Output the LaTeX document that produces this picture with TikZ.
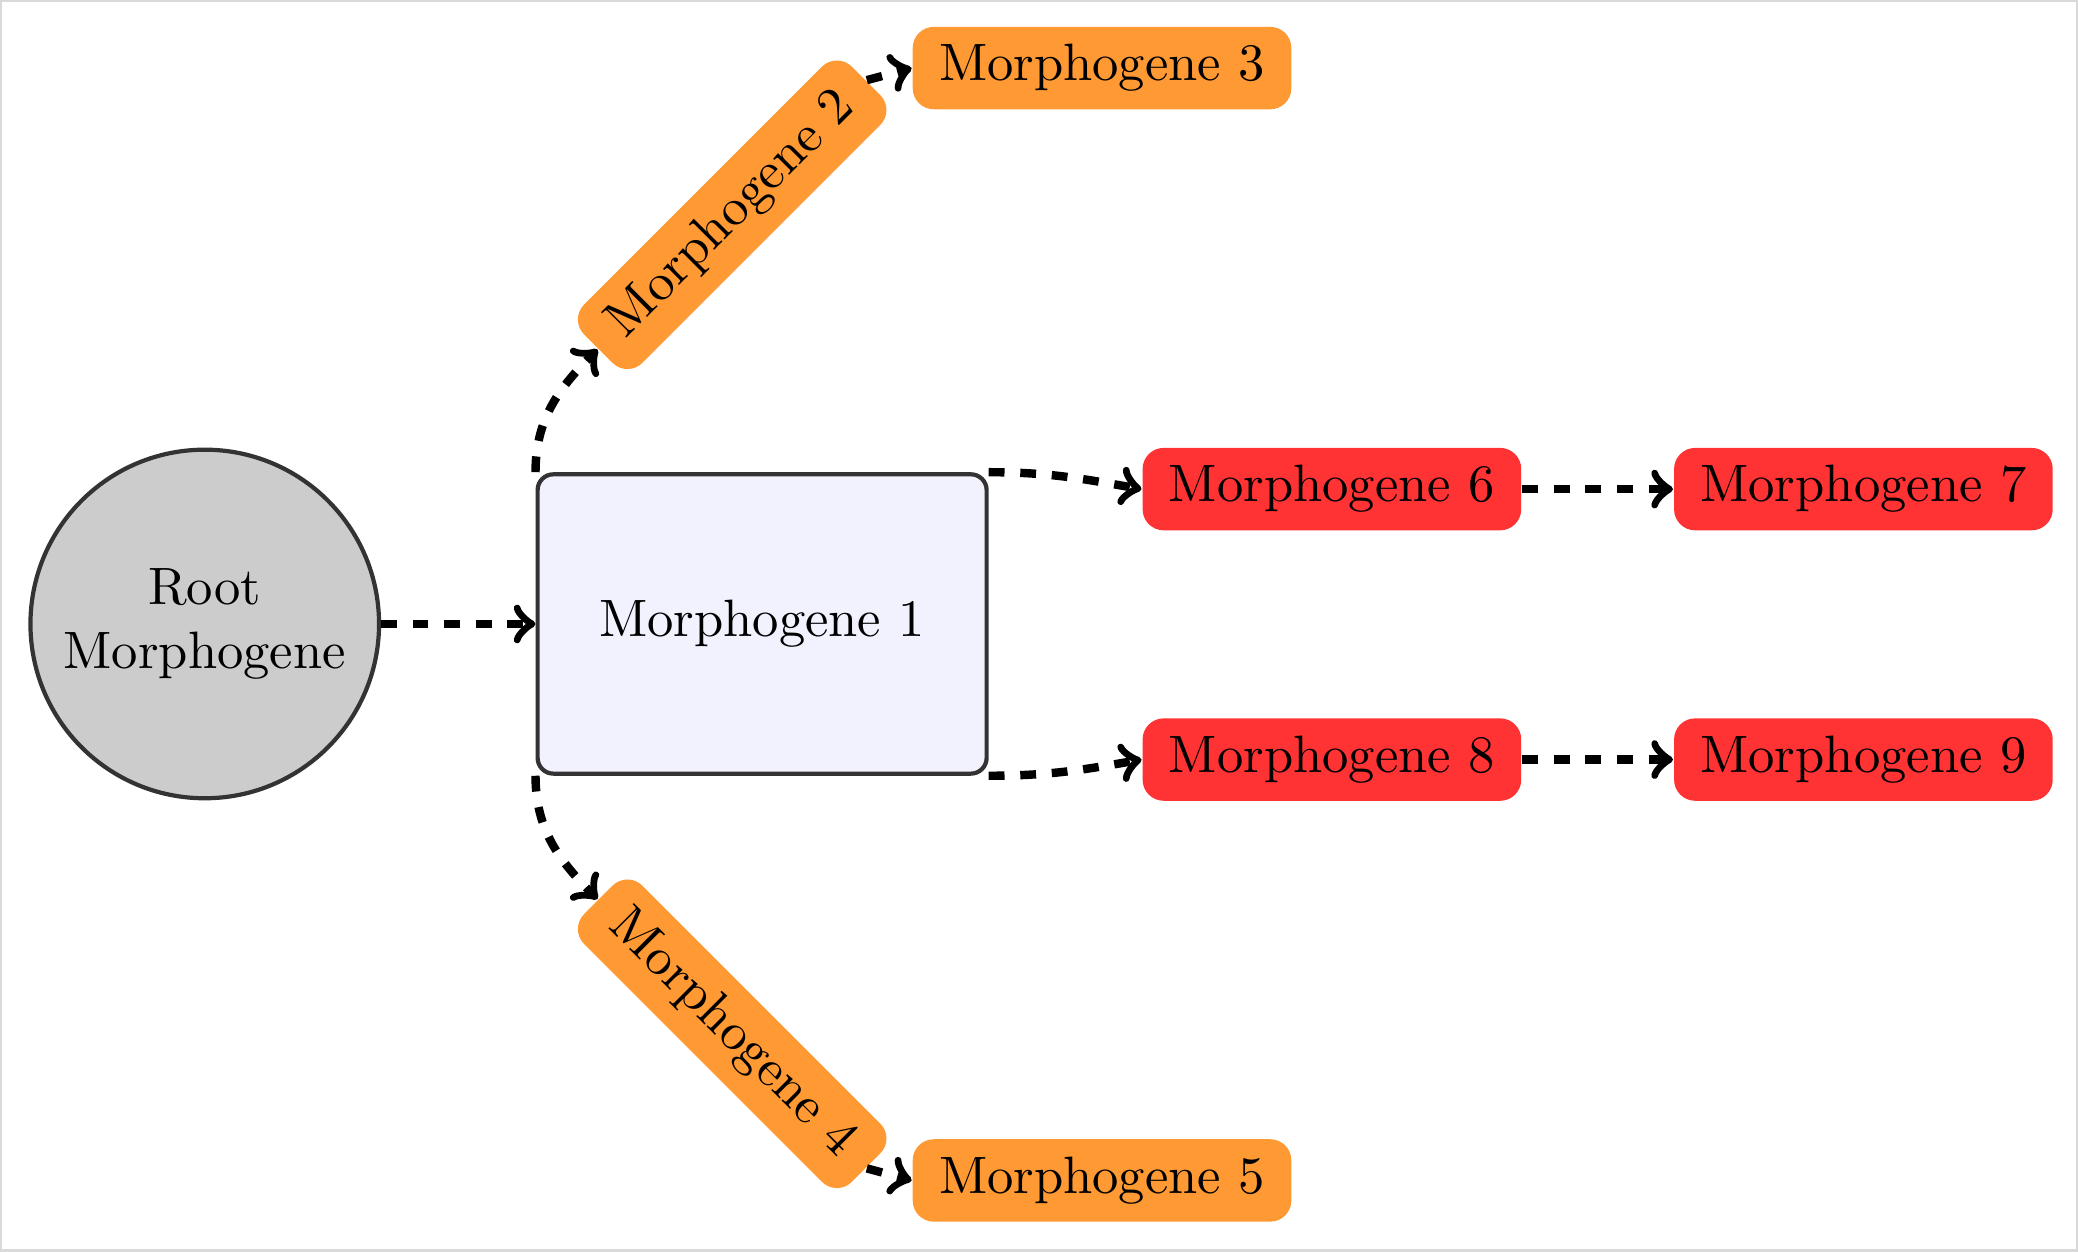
\documentclass[tikz,border=0pt]{standalone}

\begin{document}
\begin{tikzpicture}[
    rootnode/.style={circle, draw=black!80, thick, fill=black!20, align=center},
    mainnode/.style={rectangle, draw=black!80, thick, fill=blue!5, rounded corners=3pt, minimum width=3cm, minimum height=2cm},
    orangenode/.style={rectangle, fill=orange!80, rounded corners=4pt, inner xsep=5pt},
    rednode/.style={rectangle, fill=red!80, rounded corners=4pt, inner xsep=5pt},
    link/.style={->, dashed, ultra thick}
]
    \useasboundingbox (0, 0) rectangle (13.884, 8.359);
    \draw [black!15, line width=0.8pt] (0, 0) rectangle (13.884, 8.359);

    \node [rootnode] (root) at (1.368, 4.19) {Root \\ Morphogene};
    \node [mainnode] (m1) at (5.092, 4.19) {Morphogene 1};

    \node [orangenode, rotate=45] (m2) at (4.892, 6.924) {Morphogene 2};
    \node [orangenode] (m3) at (7.363, 7.904) {Morphogene 3};
    \node [orangenode, rotate=-45] (m4) at (4.892, 1.452) {Morphogene 4};
    \node [orangenode] (m5) at (7.363, 0.472) {Morphogene 5};

    \node [rednode] (m6) at (8.899, 5.091) {Morphogene 6};
    \node [rednode] (m7) at (12.450, 5.091) {Morphogene 7};
    \node [rednode] (m8) at (8.899, 3.284) {Morphogene 8};
    \node [rednode] (m9) at (12.450, 3.284) {Morphogene 9};

    \draw [link] (root.east) -- (m1.west);

    \draw [link] (m1.north west) to [out=90, in=225] (m2.west);
    \draw [link] (m2.east) -- (m3.west);
    \draw [link] (m1.south west) to [out=-90, in=135] (m4.west);
    \draw [link] (m4.east) -- (m5.west);

    \draw [link] (m1.north east) to [out=0, in=170] (m6.west);
    \draw [link] (m6.east) -- (m7.west);
    \draw [link] (m1.south east) to [out=0, in=190] (m8.west);
    \draw [link] (m8.east) -- (m9.west);

\end{tikzpicture}
\end{document}
